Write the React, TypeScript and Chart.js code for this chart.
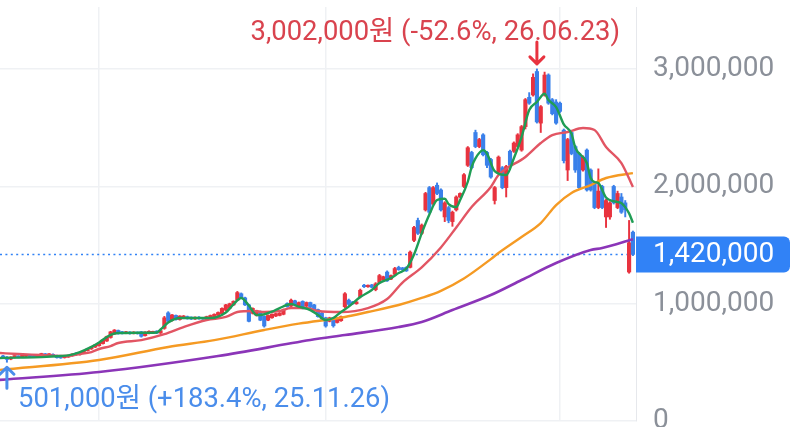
import React, { useEffect, useRef } from "react";
import { Chart, registerables } from "chart.js";

Chart.register(...registerables);

const FONT = "Roboto, 'Noto Sans CJK KR', 'Noto Sans', sans-serif";
const UNIT = 1000; // values below are in thousands of won

// ---- daily candles (천원) ----
const opens = [
  555, 545, 528, 545, 552, 545, 552, 565, 558, 548,
  556, 572, 560, 568, 558, 548, 540, 545, 555, 578,
  565, 580, 600, 615, 630, 642, 660, 682, 712, 742,
  772, 760, 748, 758, 745, 755, 760, 728, 746, 752,
  766, 750, 790, 922, 858, 900, 865, 876, 890, 885,
  870, 885, 880, 872, 880, 890, 902, 915, 945, 962,
  990, 1030, 1085, 1050, 990, 918, 902, 932, 892, 860,
  880, 895, 900, 910, 1002, 980, 1025, 982, 1020, 980,
  1010, 990, 950, 920, 880, 850, 880, 840, 855, 975,
  1030, 1015, 1000, 1060, 1155, 1145, 1160, 1120, 1180, 1205,
  1270, 1210, 1250, 1310, 1305, 1310, 1310, 1540, 1710, 1600,
  1800, 1990, 1850, 2010, 1970, 1740, 1820, 1700, 1800, 1910,
  2000, 2180, 2290, 2460, 2340, 2440, 2290, 2230, 1880, 2120,
  2160, 1990, 2300, 2300, 2340, 2310, 2510, 2760, 2780, 2980,
  2540, 2780, 2950, 2740, 2720, 2710, 2480, 2140, 2460, 2340,
  2280, 2140, 2310, 2140, 2030, 1820, 2000, 1740, 1740, 2000,
  1820, 1910, 1860, 1270, 1610,
];
const highs = [
  560, 550, 548, 556, 556, 564, 566, 568, 562, 568,
  578, 576, 575, 572, 562, 552, 554, 562, 574, 582,
  588, 598, 618, 634, 654, 668, 694, 724, 765, 780,
  776, 764, 764, 762, 762, 760, 764, 762, 768, 766,
  770, 775, 892, 932, 908, 904, 898, 900, 895, 888,
  888, 890, 884, 894, 904, 914, 930, 965, 995, 1005,
  1025, 1105, 1092, 1056, 995, 965, 945, 938, 896, 905,
  914, 920, 925, 955, 1008, 1040, 1030, 1015, 1025, 1015,
  1014, 995, 955, 925, 885, 885, 885, 875, 895, 1095,
  1040, 1020, 1020, 1125, 1165, 1160, 1165, 1180, 1250, 1235,
  1280, 1245, 1310, 1320, 1310, 1315, 1450, 1660, 1730, 1680,
  1950, 2000, 2000, 2030, 1980, 1870, 1830, 1790, 1920, 1945,
  2110, 2340, 2300, 2480, 2410, 2450, 2300, 2240, 2000, 2260,
  2170, 2180, 2310, 2380, 2450, 2520, 2750, 2800, 2960, 3002,
  2690, 2975, 2960, 2750, 2740, 2720, 2490, 2410, 2470, 2350,
  2290, 2260, 2320, 2150, 2040, 2150, 2010, 1890, 1870, 2010,
  1960, 1940, 1880, 1710, 1620,
];
const lows = [
  535, 501, 522, 538, 538, 540, 548, 546, 542, 545,
  552, 556, 556, 548, 536, 534, 536, 542, 552, 560,
  562, 576, 596, 610, 626, 638, 656, 678, 706, 738,
  740, 742, 744, 740, 742, 740, 715, 724, 742, 748,
  745, 746, 782, 842, 852, 860, 860, 872, 868, 865,
  866, 868, 866, 868, 876, 886, 898, 910, 940, 958,
  985, 1025, 1050, 985, 845, 912, 895, 855, 800, 855,
  876, 890, 896, 905, 970, 975, 985, 978, 955, 975,
  965, 935, 885, 865, 800, 845, 800, 835, 850, 965,
  985, 995, 995, 1050, 1138, 1140, 1135, 1110, 1175, 1200,
  1190, 1205, 1245, 1285, 1285, 1275, 1305, 1530, 1590, 1590,
  1790, 1770, 1840, 1930, 1790, 1700, 1690, 1660, 1790, 1905,
  1990, 2170, 2150, 2330, 2330, 2260, 2160, 2070, 1850, 2110,
  1980, 1910, 2170, 2290, 2330, 2300, 2490, 2700, 2770, 2540,
  2460, 2770, 2700, 2610, 2530, 2630, 2200, 2050, 2270, 2120,
  1980, 2130, 1960, 1960, 1810, 1810, 1810, 1650, 1720, 1850,
  1810, 1770, 1740, 1260, 1410,
];
const closes = [
  540, 525, 545, 550, 542, 560, 562, 550, 545, 565,
  575, 560, 572, 552, 540, 538, 550, 558, 570, 565,
  585, 595, 615, 630, 650, 665, 690, 720, 760, 775,
  745, 748, 760, 745, 758, 745, 722, 758, 765, 762,
  750, 770, 880, 850, 905, 865, 895, 895, 872, 870,
  885, 872, 870, 890, 900, 910, 925, 960, 990, 1000,
  1020, 1095, 1055, 990, 850, 960, 940, 860, 810, 900,
  910, 915, 920, 950, 975, 1030, 990, 1010, 960, 1010,
  970, 940, 890, 870, 810, 880, 812, 870, 890, 1085,
  995, 1000, 1015, 1115, 1145, 1155, 1140, 1170, 1240, 1230,
  1195, 1240, 1300, 1290, 1290, 1280, 1440, 1650, 1600, 1670,
  1940, 1780, 1990, 1940, 1800, 1860, 1710, 1780, 1910, 1940,
  2100, 2330, 2160, 2340, 2400, 2270, 2180, 2080, 1990, 2250,
  1990, 2170, 2180, 2370, 2440, 2510, 2740, 2710, 2930, 2550,
  2680, 2950, 2710, 2620, 2540, 2640, 2220, 2400, 2280, 2140,
  1990, 2250, 1970, 1970, 1820, 1960, 1820, 1880, 1860, 1860,
  1940, 1780, 1800, 1520, 1420,
];

// ---- moving averages: [day index, 천원] ----
const ma5 = [
  [-1, 537], [4, 540], [10, 545], [15, 554], [17, 560], [20, 588], [23, 632], [25, 670],
  [28, 735], [30, 750], [36, 752], [40, 755], [41, 780], [43, 840], [46, 878], [54, 878],
  [58, 925], [60, 995], [62, 1049], [64, 985], [66, 904], [67, 904], [70, 932], [72, 963],
  [75, 997], [77, 975], [80, 946], [82, 904], [84, 861], [86, 878], [88, 930], [90, 975],
  [93, 1057], [96, 1117], [98, 1176], [101, 1219], [103, 1262], [105, 1300], [107, 1420],
  [109, 1600], [111, 1760], [113, 1884], [115, 1895], [116, 1850], [118, 1824], [119, 1884],
  [121, 2040], [122, 2165], [123, 2240], [125, 2310], [126, 2280], [128, 2130], [131, 2097],
  [133, 2240], [135, 2421], [137, 2651], [139, 2720], [141, 2790], [142, 2737], [144, 2677],
  [146, 2530], [148, 2450], [149, 2330], [152, 2200], [153, 2072], [154, 2038], [155, 2029],
  [157, 1905], [158, 1884], [160, 1867], [161, 1858], [163, 1770], [164, 1690],
];
const ma20 = [
  [-1, 580], [4, 571], [10, 563], [16, 554], [20, 571], [23, 588], [25, 614], [28, 639],
  [30, 665], [36, 690], [42, 740], [47, 801], [53, 861], [58, 887], [61, 929], [65, 938],
  [68, 929], [72, 938], [75, 963], [79, 963], [82, 938], [88, 929], [95, 963], [100, 1040],
  [104, 1180], [109, 1310], [114, 1480], [118, 1650], [122, 1824], [127, 1995], [129, 2097],
  [136, 2251], [140, 2370], [143, 2438], [147, 2464], [151, 2498], [154, 2481], [157, 2336],
  [161, 2199], [164, 1995],
];
const ma60 = [
  [-1, 435], [25, 520], [43, 631], [55, 690], [68, 776], [77, 830], [89, 887], [95, 929],
  [103, 989], [109, 1049], [114, 1110], [120, 1215], [127, 1380], [129, 1432], [135, 1569],
  [140, 1688], [144, 1841], [148, 1944], [153, 2012], [157, 2072], [164, 2114],
];
const ma120 = [
  [-1, 350], [25, 418], [56, 554], [80, 690], [89, 733], [103, 801], [109, 844], [117, 946],
  [127, 1074], [135, 1202], [144, 1347], [153, 1458], [156, 1475], [164, 1550],
];

const yTicks = [0, 1000000, 2000000, 3000000];
const xGridIdx = [25, 84, 145]; // quarter starts: 26.01, 26.04, 26.07
const X_MIN = -0.8;
const X_MAX = 164.8;
const Y_MAX = 3530000;
const currentPrice = 1420000;
const peakMark = { idx: 139, price: 3002000, label: "3,002,000원 (-52.6%, 26.06.23)" };
const lowMark = { idx: 1, price: 501000, label: "501,000원 (+183.4%, 25.11.26)" };

const UP = "#e8333f";
const DOWN = "#3a80ea";
const GRID = "#eff1f4";
const TEXT_RED = "#d9434e";
const TEXT_BLUE = "#4a8deb";
const TAG_BLUE = "#3182f6";

function drawArrow(ctx: CanvasRenderingContext2D, x: number, tipY: number, tailY: number, color: string) {
  const dir = tipY > tailY ? 1 : -1;
  ctx.save();
  ctx.strokeStyle = color;
  ctx.lineWidth = 3;
  ctx.lineCap = "round";
  ctx.lineJoin = "round";
  ctx.beginPath();
  ctx.moveTo(x, tailY);
  ctx.lineTo(x, tipY);
  ctx.moveTo(x - 7, tipY - dir * 7);
  ctx.lineTo(x, tipY);
  ctx.lineTo(x + 7, tipY - dir * 7);
  ctx.stroke();
  ctx.restore();
}

const overlayPlugin = {
  id: "overlay",
  afterDraw(chart: any) {
    const { ctx, chartArea, scales } = chart;
    const xs = scales.x;
    const ys = scales.y;
    ctx.save();
    ctx.font = `27.4px ${FONT}`;
    ctx.textBaseline = "middle";
    ctx.textAlign = "left";
    const place = (cx: number, w: number) => {
      let left = cx - w / 2;
      if (left + w > chartArea.right - 16) left = chartArea.right - 16 - w;
      if (left < chartArea.left + 18) left = chartArea.left + 18;
      return left;
    };

    // peak marker
    const px = xs.getPixelForValue(peakMark.idx);
    const py = ys.getPixelForValue(peakMark.price);
    drawArrow(ctx, px, py - 5, py - 27, UP);
    ctx.fillStyle = TEXT_RED;
    const w1 = ctx.measureText(peakMark.label).width;
    ctx.fillText(peakMark.label, place(px, w1), py - 36);

    // low marker
    const lx = xs.getPixelForValue(lowMark.idx);
    const ly = ys.getPixelForValue(lowMark.price);
    drawArrow(ctx, lx, ly + 5, ly + 26, TEXT_BLUE);
    ctx.fillStyle = TEXT_BLUE;
    const w2 = ctx.measureText(lowMark.label).width;
    ctx.fillText(lowMark.label, place(lx, w2), ly + 38);

    // current price tag on the axis
    const cy = ys.getPixelForValue(currentPrice);
    ctx.fillStyle = TAG_BLUE;
    ctx.beginPath();
    (ctx as any).roundRect(chartArea.right, cy - 18, 154, 36, [0, 6, 6, 0]);
    ctx.fill();
    ctx.fillStyle = "#ffffff";
    ctx.font = `28px ${FONT}`;
    ctx.fillText(currentPrice.toLocaleString("en-US"), chartArea.right + 17, cy + 1);
    ctx.restore();
  },
};

export default function App() {
  const ref = useRef<HTMLCanvasElement>(null);

  useEffect(() => {
    if (!ref.current) return;
    Chart.defaults.font.family = FONT;
    const idx = closes.map((_, i) => i);
    const candleColors = idx.map((i) => (closes[i] >= opens[i] ? UP : DOWN));
    const toPts = (arr: number[][]) => arr.map(([x, y]) => ({ x, y: y * UNIT }));
    const maLine = (label: string, arr: number[][], color: string, width: number) => ({
      type: "line" as const,
      label,
      data: toPts(arr),
      borderColor: color,
      borderWidth: width,
      pointRadius: 0,
      cubicInterpolationMode: "monotone" as const,
      order: 0,
    });

    const chart = new Chart(ref.current, {
      type: "bar",
      data: {
        datasets: [
          maLine("MA5", ma5, "#1f9d55", 2.4),
          maLine("MA20", ma20, "#e25563", 2.4),
          maLine("MA60", ma60, "#f59a23", 2.4),
          maLine("MA120", ma120, "#8b35b8", 2.6),
          {
            type: "line",
            label: "current",
            data: [
              { x: X_MIN, y: currentPrice },
              { x: X_MAX, y: currentPrice },
            ],
            borderColor: TAG_BLUE,
            borderWidth: 1.6,
            borderDash: [2, 3.4],
            pointRadius: 0,
            order: 3,
          } as any,
          {
            type: "bar",
            label: "wick",
            data: idx.map((i) => ({ x: i, y: [lows[i] * UNIT, highs[i] * UNIT] })) as any,
            backgroundColor: candleColors,
            barThickness: 1.3,
            grouped: false,
            order: 2,
          } as any,
          {
            type: "bar",
            label: "body",
            data: idx.map((i) => ({ x: i, y: [opens[i] * UNIT, closes[i] * UNIT] })) as any,
            backgroundColor: candleColors,
            barThickness: 3.5,
            minBarLength: 1.5,
            grouped: false,
            order: 1,
          } as any,
        ],
      },
      options: {
        responsive: false,
        animation: false,
        layout: { padding: { top: 7, bottom: 6, left: 0, right: 0 } },
        plugins: { legend: { display: false }, tooltip: { enabled: false } },
        scales: {
          x: {
            type: "linear",
            min: X_MIN,
            max: X_MAX,
            offset: false,
            grid: { color: GRID, drawTicks: false, lineWidth: 1.5, offset: false },
            border: { display: false },
            ticks: { display: false },
            afterBuildTicks: (s: any) => {
              s.ticks = xGridIdx.map((v) => ({ value: v }));
            },
            afterFit: (s: any) => {
              s.height = 0;
              s.paddingLeft = 0;
              s.paddingRight = 0;
            },
          },
          y: {
            type: "linear",
            position: "right",
            min: 0,
            max: Y_MAX,
            afterBuildTicks: (s: any) => {
              s.ticks = yTicks.map((v) => ({ value: v }));
            },
            afterFit: (s: any) => {
              s.width = 164;
              s.paddingTop = 0;
              s.paddingBottom = 0;
            },
            grid: { color: GRID, drawTicks: false, lineWidth: 1.5 },
            border: { display: true, color: "#e6e8ec" },
            ticks: {
              color: "#8b9099",
              padding: 17,
              font: { size: 28, family: FONT },
              callback: (v: any) => Number(v).toLocaleString("en-US"),
            },
          },
        },
      } as any,
      plugins: [overlayPlugin],
    });
    return () => chart.destroy();
  }, []);

  return (
    <div style={{ position: "absolute", left: 0, top: 0, width: 800, height: 427, background: "#fff" }}>
      <canvas ref={ref} width={800} height={427} style={{ display: "block" }} />
    </div>
  );
}
